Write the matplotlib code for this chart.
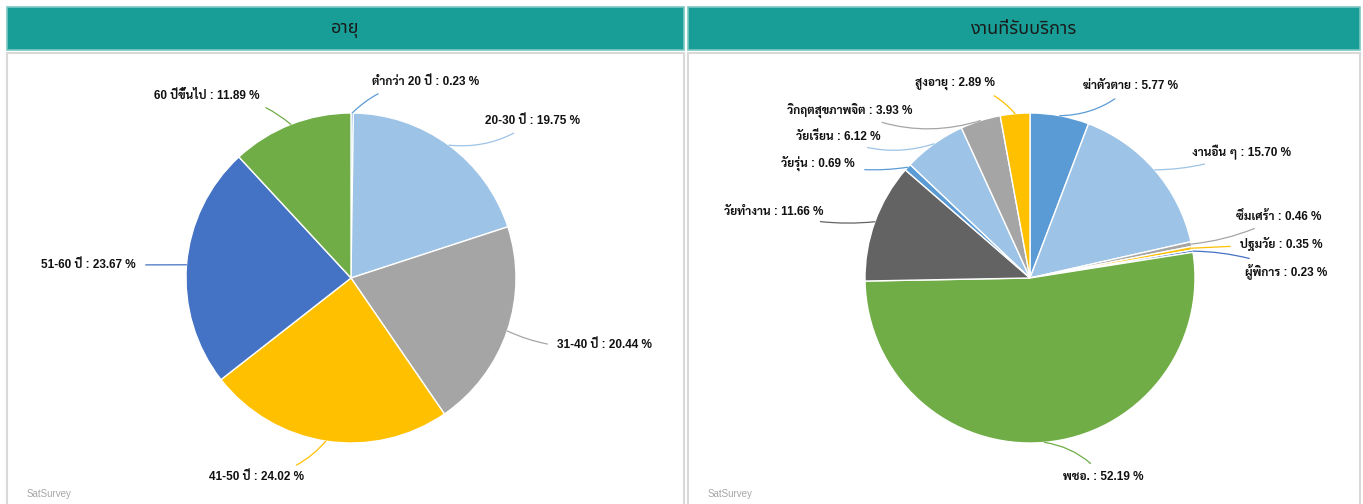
import matplotlib
matplotlib.use("Agg")
import numpy as np
import matplotlib.pyplot as plt
from matplotlib.patches import Rectangle

# ---- data ----
age_title = "อายุ"
age_labels = ["ต่ำกว่า 20 ปี", "20-30 ปี", "31-40 ปี", "41-50 ปี", "51-60 ปี", "60 ปีขึ้นไป"]
age_values = [0.23, 19.75, 20.44, 24.02, 23.67, 11.89]
age_colors = ["#5B9BD5", "#9DC3E6", "#A5A5A5", "#FFC000", "#4472C4", "#70AD47"]

work_title = "งานที่รับบริการ"
work_labels = ["ฆ่าตัวตาย", "งานอื่น ๆ", "ซึมเศร้า", "ปฐมวัย", "ผู้พิการ", "พชอ.",
               "วัยทำงาน", "วัยรุ่น", "วัยเรียน", "วิกฤตสุขภาพจิต", "สูงอายุ"]
work_values = [5.77, 15.70, 0.46, 0.35, 0.23, 52.19, 11.66, 0.69, 6.12, 3.93, 2.89]
work_colors = ["#5B9BD5", "#9DC3E6", "#A5A5A5", "#FFC000", "#4472C4", "#70AD47",
               "#636363", "#5B9BD5", "#9DC3E6", "#A5A5A5", "#FFC000"]

# label placement (pixel position of text, horizontal alignment, leader curvature)
age_text_pos = [(372, 82, "left", 0.2), (485, 121, "left", -0.2), (557, 345, "left", -0.15),
                (304, 477, "right", 0.2), (136, 265, "right", 0.0), (260, 96, "right", -0.2)]
work_text_pos = [(1083, 86, "left", -0.2), (1192, 152, "left", -0.1), (1236, 217, "left", -0.1),
                 (1240, 244, "left", 0.0), (1245, 271, "left", 0.1), (1063, 477, "left", 0.2),
                 (823, 212, "right", 0.1), (855, 163, "right", 0.1), (880, 137, "right", 0.2),
                 (913, 110, "right", 0.2), (995, 83, "right", -0.2)]

W, H = 1363, 504
label_font = ["Liberation Sans", "Sarabun", "Noto Sans Thai", "DejaVu Sans"]

fig = plt.figure(figsize=(W / 100, H / 100), dpi=100)
ax = fig.add_axes([0, 0, 1, 1])


def fy(y):
    return H - y


def panel(x0, x1, title):
    # header bar
    ax.add_patch(Rectangle((x0, fy(50)), x1 - x0, 43, facecolor="#189E96",
                           edgecolor="#7CC7C1", lw=1.2))
    ax.text((x0 + x1) / 2, fy(29), title, ha="center", va="center", fontsize=13,
            color="#1A1A1A", family=["Noto Sans Thai", "DejaVu Sans"])
    # body frame
    ax.add_patch(Rectangle((x0, -2), x1 - x0, fy(53) + 2, facecolor="white",
                           edgecolor="#D9D9D9", lw=1.5))
    ax.text(x0 + 20, fy(494), "SatSurvey", ha="left", va="center", fontsize=7,
            color="#A6A6A6", family=["Liberation Sans", "DejaVu Sans"])


def pie(cx, cy, values, labels, colors, text_pos):
    r = 165
    wedges, _ = ax.pie(values, colors=colors, startangle=90, counterclock=False,
                       center=(cx, fy(cy)), radius=r, frame=True,
                       wedgeprops=dict(edgecolor="white", linewidth=1))
    for w, lab, val, col, (tx, ty, ha, rad) in zip(wedges, labels, values, colors, text_pos):
        ang = np.deg2rad((w.theta1 + w.theta2) / 2)
        px = cx + r * np.cos(ang)
        py = fy(cy) + r * np.sin(ang)
        ax.annotate(f"{lab} : {val:.2f} %", xy=(px, py), xytext=(tx, fy(ty)),
                    ha=ha, va="center", fontsize=8.5, fontweight="bold", color="#111111",
                    family=label_font,
                    arrowprops=dict(arrowstyle="-", color=col, lw=0.9, shrinkA=5, shrinkB=0,
                                    connectionstyle=f"arc3,rad={rad}"))


panel(7, 684, age_title)
panel(688, 1360, work_title)
pie(351, 278, age_values, age_labels, age_colors, age_text_pos)
pie(1030, 278, work_values, work_labels, work_colors, work_text_pos)

ax.set_xlim(0, W)
ax.set_ylim(0, H)
ax.set_aspect("auto")
ax.axis("off")
fig.savefig("out.png", dpi=100)
